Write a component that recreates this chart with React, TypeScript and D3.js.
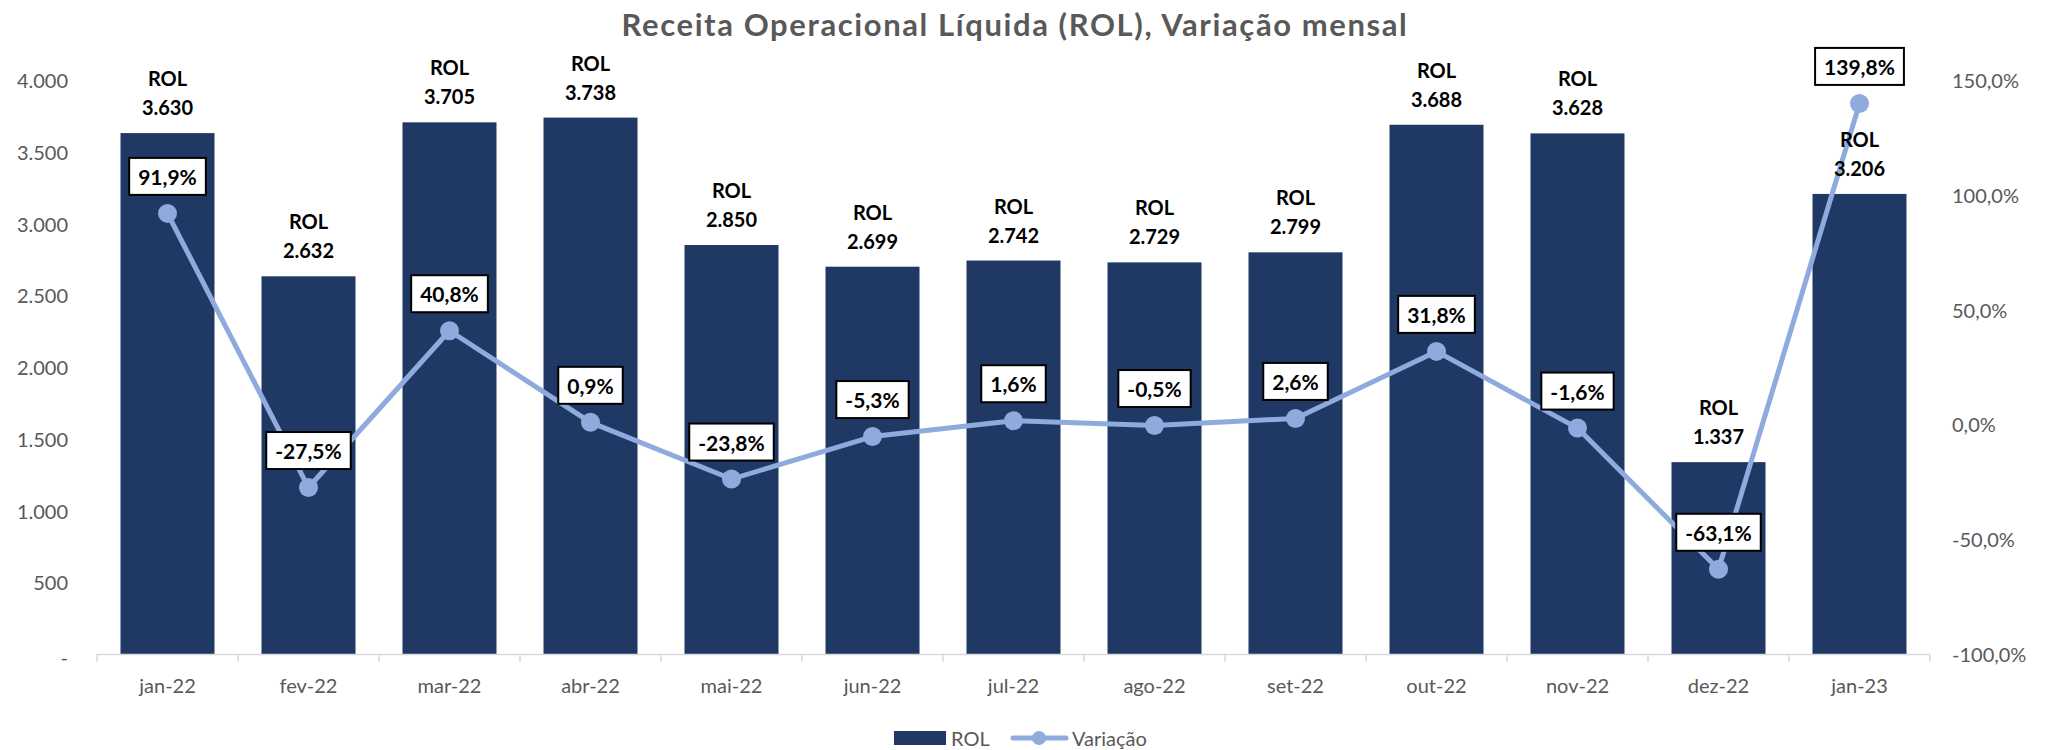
import React, { useEffect, useRef } from "react";
import * as d3 from "d3";

const categories = ["jan-22", "fev-22", "mar-22", "abr-22", "mai-22", "jun-22", "jul-22", "ago-22", "set-22", "out-22", "nov-22", "dez-22", "jan-23"];
const rolValues = [3630, 2632, 3705, 3738, 2850, 2699, 2742, 2729, 2799, 3688, 3628, 1337, 3206];
const variacaoValues = [91.9, -27.5, 40.8, 0.9, -23.8, -5.3, 1.6, -0.5, 2.6, 31.8, -1.6, -63.1, 139.8];
const leftTicks = [0, 500, 1000, 1500, 2000, 2500, 3000, 3500, 4000];
const rightTicks = [-100, -50, 0, 50, 100, 150];
const title = "Receita Operacional Líquida (ROL), Variação mensal";
const barSeriesName = "ROL";
const lineSeriesName = "Variação";

const W = 2051;
const H = 750;
const FONT = "Lato, 'Open Sans', sans-serif";
const BAR = "#203864";
const LINE = "#8FAADC";
const GRAY = "#595959";

const loc = d3.formatLocale({ decimal: ",", thousands: ".", grouping: [3], currency: ["R$", ""], minus: "-" });
const fmtInt = loc.format(",.0f");
const fmtPct = (v: number) => loc.format(".1f")(v) + "%";

export default function App() {
  const ref = useRef<SVGSVGElement | null>(null);

  useEffect(() => {
    document.body.style.margin = "0";
    const svg = d3.select(ref.current);
    svg.selectAll("*").remove();

    const left = 97, right = 1930, y0 = 654, yTop = 80;
    const x = d3.scaleBand<string>().domain(categories).range([left, right]).paddingInner(1 / 3).paddingOuter(1 / 6);
    const yL = d3.scaleLinear().domain([0, 4000]).range([y0, yTop]);
    const yR = d3.scaleLinear().domain([-100, 150]).range([y0, yTop]);
    const step = x.step();
    const cx = (c: string) => (x(c) as number) + x.bandwidth() / 2;

    // title
    svg.append("text").attr("x", 1015).attr("y", 24).attr("text-anchor", "middle").attr("dominant-baseline", "central")
      .attr("font-family", FONT).attr("font-weight", 700).attr("font-size", 31).attr("letter-spacing", 1.6)
      .attr("fill", GRAY).text(title);

    // left axis labels
    svg.append("g").selectAll("text").data(leftTicks).join("text")
      .attr("x", 68).attr("y", (d) => yL(d) + (d === 0 ? 3 : 0)).attr("text-anchor", "end").attr("dominant-baseline", "central")
      .attr("font-family", FONT).attr("font-size", 20).attr("fill", GRAY)
      .text((d) => (d === 0 ? "-" : fmtInt(d)));

    // right axis labels
    svg.append("g").selectAll("text").data(rightTicks).join("text")
      .attr("x", 1952).attr("y", (d) => yR(d)).attr("text-anchor", "start").attr("dominant-baseline", "central")
      .attr("font-family", FONT).attr("font-size", 20).attr("fill", GRAY)
      .text((d) => fmtPct(d));

    // bars
    svg.append("g").selectAll("rect").data(categories).join("rect")
      .attr("x", (c) => x(c) as number).attr("width", x.bandwidth())
      .attr("y", (_c, i) => yL(rolValues[i])).attr("height", (_c, i) => y0 - yL(rolValues[i]))
      .attr("fill", BAR);

    // x axis line + ticks
    const ax = svg.append("g");
    ax.append("line").attr("x1", left).attr("x2", right).attr("y1", y0 + 0.5).attr("y2", y0 + 0.5).attr("stroke", "#D9D9D9").attr("stroke-width", 1.5);
    const bounds = d3.range(categories.length + 1).map((i) => left + i * step);
    ax.selectAll("line.t").data(bounds).join("line").attr("class", "t")
      .attr("x1", (d) => d).attr("x2", (d) => d).attr("y1", y0).attr("y2", y0 + 8)
      .attr("stroke", "#D9D9D9").attr("stroke-width", 1.5);
    ax.selectAll("text").data(categories).join("text")
      .attr("x", (c) => cx(c)).attr("y", 685).attr("text-anchor", "middle").attr("dominant-baseline", "central")
      .attr("font-family", FONT).attr("font-size", 20).attr("fill", GRAY).text((c) => c);

    // line
    const line = d3.line<number>().x((_d, i) => cx(categories[i])).y((d) => yR(d));
    svg.append("path").attr("d", line(variacaoValues) as string).attr("fill", "none").attr("stroke", LINE)
      .attr("stroke-width", 5).attr("stroke-linejoin", "round");
    svg.append("g").selectAll("circle").data(variacaoValues).join("circle")
      .attr("cx", (_d, i) => cx(categories[i])).attr("cy", (d) => yR(d)).attr("r", 9.5).attr("fill", LINE);

    // bar labels (drawn above the line)
    const bl = svg.append("g");
    categories.forEach((c, i) => {
      const top = yL(rolValues[i]);
      bl.append("text").attr("x", cx(c)).attr("y", top - 55).attr("text-anchor", "middle").attr("dominant-baseline", "central")
        .attr("font-family", FONT).attr("font-weight", 700).attr("font-size", 20).attr("fill", "#000").text(barSeriesName);
      bl.append("text").attr("x", cx(c)).attr("y", top - 26).attr("text-anchor", "middle").attr("dominant-baseline", "central")
        .attr("font-family", FONT).attr("font-weight", 700).attr("font-size", 20).attr("fill", "#000").text(fmtInt(rolValues[i]));
    });

    // line labels with boxes
    const ll = svg.append("g");
    variacaoValues.forEach((v, i) => {
      const px = cx(categories[i]);
      const py = yR(v) - 37;
      const g = ll.append("g");
      const rect = g.append("rect");
      const t = g.append("text").attr("x", px).attr("y", py).attr("text-anchor", "middle").attr("dominant-baseline", "central")
        .attr("font-family", FONT).attr("font-weight", 700).attr("font-size", 21).attr("fill", "#000").text(fmtPct(v));
      const w = (t.node() as SVGTextElement).getComputedTextLength() + 18;
      rect.attr("x", px - w / 2).attr("y", py - 18.5).attr("width", w).attr("height", 37)
        .attr("fill", "#fff").attr("stroke", "#000").attr("stroke-width", 2);
    });

    // legend
    const lg = svg.append("g");
    lg.append("rect").attr("x", 894).attr("y", 731).attr("width", 52).attr("height", 14).attr("fill", BAR);
    lg.append("text").attr("x", 951).attr("y", 738).attr("dominant-baseline", "central").attr("font-family", FONT)
      .attr("font-size", 20).attr("fill", GRAY).text(barSeriesName);
    lg.append("line").attr("x1", 1013).attr("x2", 1066).attr("y1", 738).attr("y2", 738).attr("stroke", LINE).attr("stroke-width", 5).attr("stroke-linecap", "round");
    lg.append("circle").attr("cx", 1039).attr("cy", 738).attr("r", 7).attr("fill", LINE);
    lg.append("text").attr("x", 1072).attr("y", 738).attr("dominant-baseline", "central").attr("font-family", FONT)
      .attr("font-size", 20).attr("fill", GRAY).text(lineSeriesName);
  }, []);

  return <svg ref={ref} width={W} height={H} style={{ position: "absolute", left: 0, top: 0, background: "#fff" }} />;
}
